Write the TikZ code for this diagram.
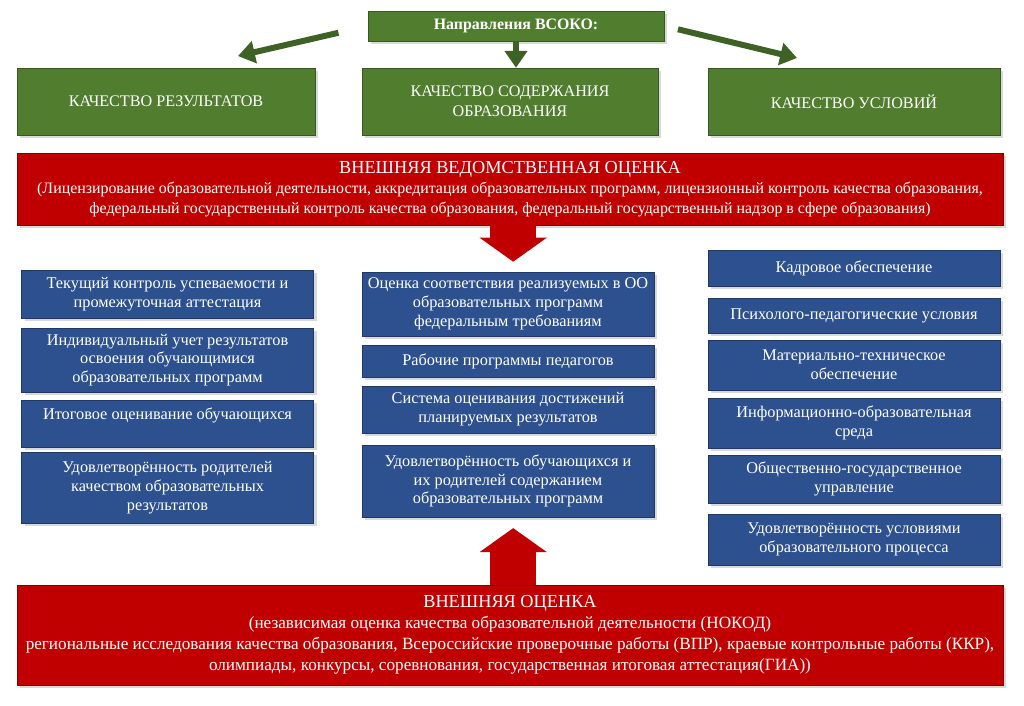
\documentclass[tikz,border=0pt]{standalone}
\usepackage{fontspec}
\setmainfont{Liberation Serif}
\usetikzlibrary{arrows.meta,shadows}

\definecolor{vsgreen}{RGB}{80,126,46}
\definecolor{vsgreendark}{RGB}{62,98,38}
\definecolor{vsred}{RGB}{192,0,0}
\definecolor{vsblue}{RGB}{45,80,142}

\begin{document}
\begin{tikzpicture}[x=0.025cm,y=-0.025cm,
	ht/.style={minimum height=#1*0.025cm},
	box/.style={rectangle, draw=#1!70!black, fill=#1, text=white, align=center, inner sep=2pt, drop shadow={opacity=0.3}},
	headbox/.style={box=vsgreen, minimum width=7.4cm, ht=30, font=\bfseries\fontsize{11.3}{13}\selectfont},
	greenbox/.style={box=vsgreen, ht=67, font=\fontsize{11.5}{14}\selectfont},
	bluebox/.style={box=vsblue, minimum width=7.3cm, font=\fontsize{11.6}{13.3}\selectfont},
	redbox/.style={box=vsred, minimum width=24.65cm},
	greenarrow/.style={draw=vsgreendark, line width=0.15cm, -{Triangle[width=0.55cm,length=0.42cm]}},
	bigarrow/.style={draw=vsred, line width=1.15cm, -{Triangle[width=1.65cm,length=0.6cm]}}]
	\useasboundingbox (0,0) rectangle (1024,705);

	% directions
	\node[headbox] (vsoko) at (516,26) {Направления ВСОКО:};
	\node[greenbox,minimum width=7.45cm] (g1) at (166,101.5) {КАЧЕСТВО РЕЗУЛЬТАТОВ};
	\node[greenbox,minimum width=7.4cm] (g2) at (510,101.5) {КАЧЕСТВО СОДЕРЖАНИЯ\\ОБРАЗОВАНИЯ};
	\node[greenbox,minimum width=7.3cm] (g3) at (854,101.5) {КАЧЕСТВО УСЛОВИЙ};
	\coordinate (g1in) at (238,56);
	\coordinate (g3in) at (797,58);
	\draw[greenarrow,shorten <=0.75cm] (vsoko.west) -- (g1in);
	\draw[greenarrow] (vsoko.south) -- (vsoko.south |- g2.north);
	\draw[greenarrow,shorten <=0.35cm] (vsoko.east) -- (g3in);

	% external assessments
	\node[redbox,ht=72,font=\fontsize{11.3}{14.4}\selectfont] (vved) at (510,189) {{\fontsize{13}{14.4}\selectfont ВНЕШНЯЯ ВЕДОМСТВЕННАЯ ОЦЕНКА}\\
		(Лицензирование образовательной деятельности, аккредитация образовательных программ, лицензионный контроль качества образования,\\
		федеральный государственный контроль качества образования, федеральный государственный надзор в сфере образования)};
	\node[redbox,ht=100,font=\fontsize{12.2}{14.8}\selectfont] (vnesh) at (510,635) {{\fontsize{13}{14.8}\selectfont ВНЕШНЯЯ ОЦЕНКА}\\
		(независимая оценка качества образовательной деятельности (НОКОД)\\
		региональные исследования качества образования, Всероссийские проверочные работы (ВПР), краевые контрольные работы (ККР),\\
		олимпиады, конкурсы, соревнования, государственная итоговая аттестация(ГИА))};

	% results
	\node[bluebox,ht=48] (l1) at (167.5,294) {Текущий контроль успеваемости и\\промежуточная аттестация};
	\node[bluebox,ht=64] (l2) at (167.5,360) {Индивидуальный учет результатов\\освоения обучающимися\\образовательных программ};
	\node[bluebox,ht=47] (l3) at (167.5,423.5) {Итоговое оценивание обучающихся\\~};
	\node[bluebox,ht=71] (l4) at (167.5,487.5) {Удовлетворённость родителей\\качеством образовательных\\результатов};

	% content
	\node[bluebox,ht=64] (m1) at (508,304) {Оценка соответствия реализуемых в ОО\\образовательных программ\\федеральным требованиям};
	\node[bluebox,ht=32] (m2) at (508,361) {Рабочие программы педагогов};
	\node[bluebox,ht=47] (m3) at (508,409.5) {Система оценивания достижений\\планируемых результатов};
	\node[bluebox,ht=72] (m4) at (508,481) {Удовлетворённость обучающихся и\\их родителей содержанием\\образовательных программ};

	% conditions
	\node[bluebox,ht=36] (r1) at (854,268) {Кадровое обеспечение};
	\node[bluebox,ht=35] (r2) at (854,315.5) {Психолого-педагогические условия};
	\node[bluebox,ht=50] (r3) at (854,365) {Материально-техническое\\обеспечение};
	\node[bluebox,ht=50] (r4) at (854,423) {Информационно-образовательная\\среда};
	\node[bluebox,ht=48] (r5) at (854,479) {Общественно-государственное\\управление};
	\node[bluebox,ht=51] (r6) at (854,539.5) {Удовлетворённость условиями\\образовательного процесса};

	\draw[bigarrow,shorten >=0.25cm] ([xshift=0.08cm]vved.south) -- ([xshift=0.08cm]vved.south |- m1.north);
	\draw[bigarrow,shorten >=0.27cm] ([xshift=0.08cm]vnesh.north) -- ([xshift=0.08cm]vnesh.north |- m4.south);
\end{tikzpicture}
\end{document}
